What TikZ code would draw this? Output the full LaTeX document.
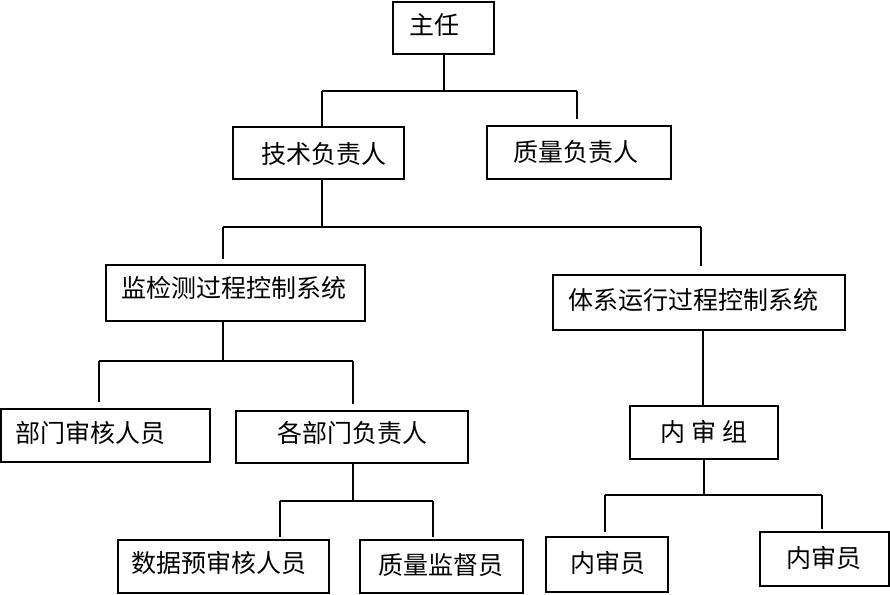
\documentclass[tikz,border=0pt]{standalone}
\usepackage{fontspec}
\newfontfamily\cjk{Noto Sans CJK SC}
\usetikzlibrary{calc}
\tikzset{
  box/.style={draw=black, line width=2pt, rectangle, inner sep=0pt},
  lbl/.style={inner sep=0pt, font=\cjk\fontsize{25}{29}\selectfont},
  conn/.style={draw=black, line width=2pt}
}
\begin{document}
\begin{tikzpicture}[x=1pt, y=-1pt]
\useasboundingbox[fill=white] (0,0) rectangle (890,594);
% boxes
\node[box, minimum width=101pt, minimum height=52pt] (zr) at (443.5,28) {};
\node[box, minimum width=171pt, minimum height=52pt] (js) at (318.5,153) {};
\node[box, minimum width=184pt, minimum height=53pt] (zl) at (579,152.5) {};
\node[box, minimum width=259pt, minimum height=56pt] (jc) at (235.5,293) {};
\node[box, minimum width=292pt, minimum height=55pt] (tx) at (699,302.5) {};
\node[box, minimum width=209pt, minimum height=53pt] (bm) at (105.5,435.5) {};
\node[box, minimum width=232pt, minimum height=52pt] (gb) at (352,437) {};
\node[box, minimum width=148pt, minimum height=53pt] (ns) at (704,432.5) {};
\node[box, minimum width=211pt, minimum height=53pt] (sj) at (223.5,566.5) {};
\node[box, minimum width=163pt, minimum height=53pt] (zj) at (441.5,566.5) {};
\node[box, minimum width=122pt, minimum height=55pt] (n1) at (607,564.5) {};
\node[box, minimum width=129pt, minimum height=54pt] (n2) at (824.5,559) {};
% labels
\node[lbl] (zr-t) at (434,25) {主任};
\node[lbl] (js-t) at (324,154) {技术负责人};
\node[lbl] (zl-t) at (576,152) {质量负责人};
\node[lbl] (jc-t) at (234,288) {监检测过程控制系统};
\node[lbl] (tx-t) at (693.5,300) {体系运行过程控制系统};
\node[lbl] (bm-t) at (90,433) {部门审核人员};
\node[lbl] (gb-t) at (352.5,433) {各部门负责人};
\node[lbl] (ns-t) at (704,432) {内 审 组};
\node[lbl] (sj-t) at (219,563) {数据预审核人员};
\node[lbl] (zj-t) at (441,565) {质量监督员};
\node[lbl] (n1-t) at (607.5,563) {内审员};
\node[lbl] (n2-t) at (823.5,558) {内审员};
% bus coordinates
\coordinate (b1l) at (322,91);  \coordinate (b1r) at (577,91);
\coordinate (b2l) at (223,227); \coordinate (b2r) at (701,227);
\coordinate (b3l) at (99,361);  \coordinate (b3r) at (353,361);
\coordinate (b4l) at (280,501); \coordinate (b4r) at (433,501);
\coordinate (b5l) at (605,495); \coordinate (b5r) at (822,495);
% level 1
\draw[conn] (zr.south) -- (zr.south |- b1l);
\draw[conn] (b1l) -- (b1r);
\draw[conn] (b1l) -- (b1l |- js.north);
\draw[conn] (b1r) -- ($(b1r |- zl.north)+(0,-6)$);
% level 2
\draw[conn] (b1l |- js.south) -- (b1l |- b2l);
\draw[conn] (b2l) -- (b2r);
\draw[conn] (b2l) -- ($(b2l |- jc.north)+(0,-5)$);
\draw[conn] (b2r) -- ($(b2r |- tx.north)+(0,-8)$);
% level 3 left
\draw[conn] (b2l |- jc.south) -- (b2l |- b3l);
\draw[conn] (b3l) -- (b3r);
\draw[conn] (b3l) -- ($(b3l |- bm.north)+(0,-6)$);
\draw[conn] (b3r) -- ($(b3r |- gb.north)+(0,-6)$);
% level 4 left
\draw[conn] (b3r |- gb.south) -- (b3r |- b4l);
\draw[conn] (b4l) -- (b4r);
\draw[conn] (b4l) -- ($(b4l |- sj.north)+(0,-2)$);
\draw[conn] (b4r) -- ($(b4r |- zj.north)+(0,-2)$);
% right branch
\draw[conn] (703,0 |- tx.south) -- (703,0 |- ns.north);
\draw[conn] (ns.south) -- (ns.south |- b5l);
\draw[conn] (b5l) -- (b5r);
\draw[conn] (b5l) -- ($(b5l |- n1.north)+(0,-4)$);
\draw[conn] (b5r) -- ($(b5r |- n2.north)+(0,-2)$);
\end{tikzpicture}
\end{document}
